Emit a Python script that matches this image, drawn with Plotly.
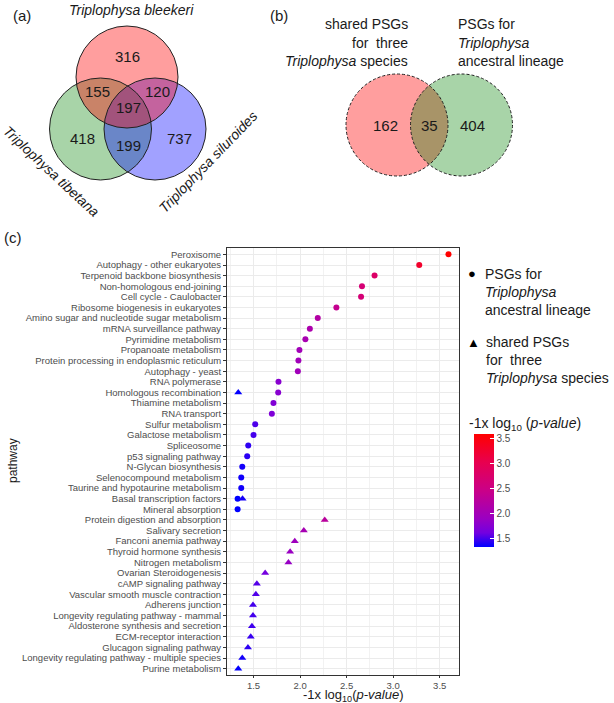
import plotly.graph_objects as go

W, H = 614, 703
FONT = "Liberation Sans"

# ---------------- data ----------------
pathways = [
    "Peroxisome", "Autophagy - other eukaryotes", "Terpenoid backbone biosynthesis",
    "Non-homologous end-joining", "Cell cycle - Caulobacter", "Ribosome biogenesis in eukaryotes",
    "Amino sugar and nucleotide sugar metabolism", "mRNA surveillance pathway",
    "Pyrimidine metabolism", "Propanoate metabolism",
    "Protein processing in endoplasmic reticulum", "Autophagy - yeast", "RNA polymerase",
    "Homologous recombination", "Thiamine metabolism", "RNA transport", "Sulfur metabolism",
    "Galactose metabolism", "Spliceosome", "p53 signaling pathway", "N-Glycan biosynthesis",
    "Selenocompound metabolism", "Taurine and hypotaurine metabolism",
    "Basal transcription factors", "Mineral absorption", "Protein digestion and absorption",
    "Salivary secretion", "Fanconi anemia pathway", "Thyroid hormone synthesis",
    "Nitrogen metabolism", "Ovarian Steroidogenesis", "cAMP signaling pathway",
    "Vascular smooth muscle contraction", "Adherens junction",
    "Longevity regulating pathway - mammal", "Aldosterone synthesis and secretion",
    "ECM-receptor interaction", "Glucagon signaling pathway",
    "Longevity regulating pathway - multiple species", "Purine metabolism",
]

ancestral_pathways = [
    "Peroxisome", "Autophagy - other eukaryotes", "Terpenoid backbone biosynthesis",
    "Non-homologous end-joining", "Cell cycle - Caulobacter", "Ribosome biogenesis in eukaryotes",
    "Amino sugar and nucleotide sugar metabolism", "mRNA surveillance pathway",
    "Pyrimidine metabolism", "Propanoate metabolism",
    "Protein processing in endoplasmic reticulum", "Autophagy - yeast", "RNA polymerase",
    "Homologous recombination", "Thiamine metabolism", "RNA transport", "Sulfur metabolism",
    "Galactose metabolism", "Spliceosome", "p53 signaling pathway", "N-Glycan biosynthesis",
    "Selenocompound metabolism", "Taurine and hypotaurine metabolism",
    "Basal transcription factors", "Mineral absorption",
]
ancestral_values = [
    3.594, 3.28, 2.80, 2.665, 2.655, 2.39, 2.19, 2.105, 2.057, 1.993,
    1.982, 1.976, 1.768, 1.765, 1.714, 1.697, 1.518, 1.50, 1.443, 1.432,
    1.379, 1.368, 1.368, 1.329, 1.329,
]

shared_pathways = [
    "Homologous recombination", "Basal transcription factors",
    "Protein digestion and absorption", "Salivary secretion", "Fanconi anemia pathway",
    "Thyroid hormone synthesis", "Nitrogen metabolism", "Ovarian Steroidogenesis",
    "cAMP signaling pathway", "Vascular smooth muscle contraction", "Adherens junction",
    "Longevity regulating pathway - mammal", "Aldosterone synthesis and secretion",
    "ECM-receptor interaction", "Glucagon signaling pathway",
    "Longevity regulating pathway - multiple species", "Purine metabolism",
]
shared_values = [
    1.336, 1.382, 2.265, 2.04, 1.943, 1.893, 1.875, 1.625, 1.536, 1.525,
    1.494, 1.494, 1.483, 1.47, 1.44, 1.379, 1.336,
]

x_ticks = [1.5, 2.0, 2.5, 3.0, 3.5]

venn_a_labels = ["Triplophysa bleekeri", "Triplophysa tibetana", "Triplophysa siluroides"]
venn_a_counts = [316, 155, 120, 197, 418, 199, 737]
venn_b_counts = [162, 35, 404]

# ---------------- helpers (pixel -> paper) ----------------
def px(x):
    return x / W

def py(y):
    return 1 - y / H

# ggplot-like blue->red Lab gradient
cscale = [
    [0.0, "#0000FF"], [0.125, "#7300E0"], [0.25, "#9A00C2"], [0.5, "#CA0088"],
    [0.75, "#E8004F"], [1.0, "#FF0000"],
]
all_vals = ancestral_values + shared_values
cmin, cmax = min(all_vals), max(all_vals)

fig = go.Figure()
fig.add_trace(go.Scatter(
    x=ancestral_values, y=ancestral_pathways, mode="markers",
    marker=dict(symbol="circle", size=6, color=ancestral_values, coloraxis="coloraxis",
                line=dict(width=0)),
    showlegend=False,
))
fig.add_trace(go.Scatter(
    x=shared_values, y=shared_pathways, mode="markers",
    marker=dict(symbol="triangle-up", size=7, color=shared_values, coloraxis="coloraxis",
                line=dict(width=0)),
    showlegend=False,
))

# panel geometry
PL, PR, PT, PB = 227, 459, 248, 675

fig.update_layout(
    width=W, height=H, margin=dict(l=0, r=0, t=0, b=0, pad=0, autoexpand=False),
    paper_bgcolor="white", plot_bgcolor="white",
    font=dict(family=FONT, color="#1a1a1a"),
    xaxis=dict(
        domain=[px(PL), px(PR)], range=[1.215, 3.707], automargin=False,
        tickmode="array", tickvals=x_ticks, ticktext=[f"{v:.1f}" for v in x_ticks],
        tickfont=dict(size=9.5, color="#4D4D4D", family=FONT),
        ticks="outside", ticklen=2, tickcolor="#333333", ticklabelstandoff=0,
        showgrid=True, gridcolor="#EBEBEB", gridwidth=1,
        minor=dict(dtick=0.25, tick0=1.25, showgrid=True, gridcolor="#F2F2F2", gridwidth=0.6),
        showline=True, mirror=True, linecolor="#333333", linewidth=1, zeroline=False,
    ),
    yaxis=dict(
        domain=[py(PB), py(PT)], type="category", automargin=False,
        categoryorder="array", categoryarray=pathways[::-1],
        range=[-0.6, len(pathways) - 0.4],
        tickmode="array", tickvals=pathways, ticktext=pathways,
        tickfont=dict(size=9.5, color="#4D4D4D", family=FONT),
        ticks="outside", ticklen=3, tickcolor="#333333",
        showgrid=True, gridcolor="#EBEBEB", gridwidth=1,
        showline=True, mirror=True, linecolor="#333333", linewidth=1, zeroline=False,
    ),
    coloraxis=dict(
        cmin=cmin, cmax=cmax, colorscale=cscale,
        colorbar=dict(
            x=px(474), xanchor="left", xref="container", xpad=0,
            y=py(434), yanchor="top", yref="container", ypad=0,
            len=113, lenmode="pixels", thickness=20, thicknessmode="pixels",
            outlinewidth=0, ticks="inside", ticklen=4, tickcolor="white", tickwidth=1,
            tickmode="array", tickvals=x_ticks, ticktext=[f"{v:.1f}" for v in x_ticks],
            tickfont=dict(size=10, color="#4D4D4D", family=FONT),
        ),
    ),
)

shapes = []
annotations = []

def ann(x, y, text, size=14, xanchor="center", angle=0, color="#1a1a1a"):
    annotations.append(dict(
        x=px(x), y=py(y), xref="paper", yref="paper", text=text, showarrow=False,
        xanchor=xanchor, yanchor="middle", textangle=angle,
        font=dict(size=size, family=FONT, color=color),
    ))

def circle(cx, cy, r, fill=None, line=None, dash="solid"):
    d = dict(type="circle", xref="paper", yref="paper",
             x0=px(cx - r), x1=px(cx + r), y0=py(cy + r), y1=py(cy - r), layer="above")
    if fill:
        d["fillcolor"] = fill
        d["line"] = dict(width=0)
    else:
        d["line"] = dict(color=line, width=1, dash=dash)
    shapes.append(d)

# ---------------- Venn (a) ----------------
RED = "rgba(255,0,0,0.38)"
GREEN = "rgba(0,128,0,0.34)"
BLUE = "rgba(0,0,255,0.37)"
ca = [(127, 77), (100.5, 129), (155, 129)]  # bleekeri, tibetana, siluroides
ra = 51
circle(*ca[1], ra, fill=GREEN)
circle(*ca[2], ra, fill=BLUE)
circle(*ca[0], ra, fill=RED)
for c in ca:
    circle(*c, ra, line="#222222")

pos_a = [(127, 56), (98, 92), (157, 92), (128, 107), (82, 138), (128, 145), (179, 138)]
for (x, y), n in zip(pos_a, venn_a_counts):
    ann(x, y, str(n), size=15)

ann(131, 10, f"<i>{venn_a_labels[0]}</i>", size=14)
ann(51, 171, f"<i>{venn_a_labels[1]}</i>", size=14, angle=43)
ann(208, 162, f"<i>{venn_a_labels[2]}</i>", size=14, angle=-46)

# ---------------- Venn (b) ----------------
cb = [(397, 125), (461.5, 125)]
rb = 51
circle(*cb[0], rb, fill=RED)
circle(*cb[1], rb, fill=GREEN)
for c in cb:
    circle(*c, rb, line="#222222", dash="3px,2px")
pos_b = [(386, 126), (429, 126), (472, 126)]
for (x, y), n in zip(pos_b, venn_b_counts):
    ann(x, y, str(n), size=15)

ann(410, 24, "shared PSGs", xanchor="right")
ann(410, 43, "for  three", xanchor="right")
ann(410, 61, "<i>Triplophysa</i> species", xanchor="right")
ann(456, 24, "PSGs for", xanchor="left")
ann(456, 43, "<i>Triplophysa</i>", xanchor="left")
ann(456, 61, "ancestral lineage", xanchor="left")

# panel letters
ann(22, 15, "(a)", size=15)
ann(279, 15, "(b)", size=15)
ann(13, 238, "(c)", size=15)

# ---------------- panel (c) titles & legend ----------------
ann(353, 695, "-1x log<sub>10</sub>(<i>p-value</i>)", size=13)
ann(13, 461, "pathway", size=12, angle=-90)

ann(472, 274, "●", size=13, color="black")
ann(483, 274, "PSGs for", xanchor="left")
ann(483, 292, "<i>Triplophysa</i>", xanchor="left")
ann(483, 310, "ancestral lineage", xanchor="left")
ann(473, 342, "▲", size=13, color="black")
ann(484, 342, "shared PSGs", xanchor="left")
ann(484, 360, "for  three", xanchor="left")
ann(484, 378, "<i>Triplophysa</i> species", xanchor="left")
ann(467, 424, "-1x log<sub>10</sub> (<i>p-value</i>)", size=14, xanchor="left")

fig.update_layout(shapes=shapes, annotations=annotations)
fig.write_html(
    "out.html",
    config={"displayModeBar": False},
    post_script="document.body.style.margin='0px';document.body.style.padding='0px';",
)
